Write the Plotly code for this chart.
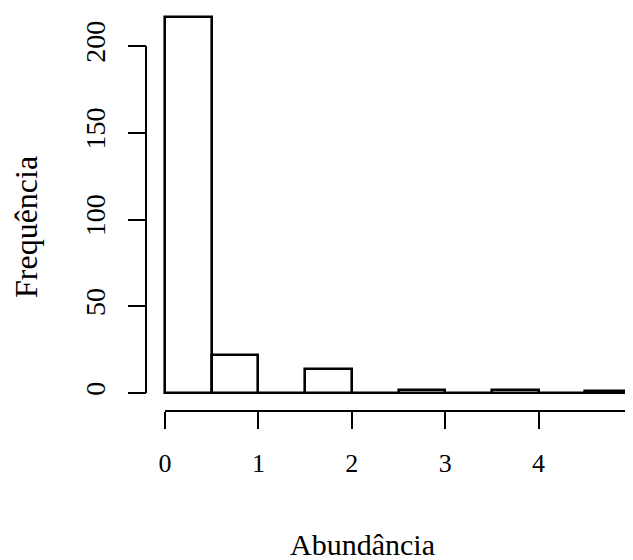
import numpy as np
import plotly.graph_objects as go

# Histogram data
bin_edges = [0.0, 0.5, 1.0, 1.5, 2.0, 2.5, 3.0, 3.5, 4.0, 4.5, 5.0]
counts = [217, 22, 0, 14, 0, 2, 0, 2, 0, 1]
x_ticks = [0, 1, 2, 3, 4, 5]
y_ticks = [0, 50, 100, 150, 200]
x_title = "Abundância"
y_title = "Frequência"

edges = np.array(bin_edges)
centers = (edges[:-1] + edges[1:]) / 2
widths = np.diff(edges)

W, H = 633, 560
FONT = "Liberation Serif"
OFF = 8  # page body margin in the browser

# plot area in figure pixels
L, R, T, B = 122, 626, 0, 407
PW, PH = R - L, B - T
x0_px, xscale = 165 - OFF, 93.4        # pixel of x=0, px per unit
y0_px, yscale = 393 - OFF, 1.735       # pixel of y=0, px per unit

xr = [-(x0_px - L) / xscale, (R - x0_px) / xscale]
yr = [-(B - y0_px) / yscale, (y0_px - T) / yscale]

def px(x):
    return (x - OFF - L) / PW

def py(y):
    return (B - (y - OFF)) / PH

fig = go.Figure()
fig.add_trace(go.Bar(
    x=centers, y=counts, width=widths,
    marker=dict(color="white", line=dict(color="black", width=2.6)),
    cliponaxis=False, showlegend=False, hoverinfo="x+y",
))

ypos = px(146)
xpos = py(411)

fig.update_layout(
    width=W, height=H,
    margin=dict(l=L, r=W - R, t=T, b=H - B, autoexpand=False),
    paper_bgcolor="white", plot_bgcolor="white",
    font=dict(family=FONT, size=26, color="black"),
    bargap=0,
    xaxis=dict(
        range=xr, anchor="free", position=xpos, automargin=False,
        showgrid=False, zeroline=False, showline=False,
        ticks="outside", ticklen=17, tickwidth=2, tickcolor="black",
        tickvals=x_ticks, ticktext=[str(v) for v in x_ticks],
        tickfont=dict(family=FONT, size=26), ticklabelstandoff=12,
        ticklabeloverflow="allow",
    ),
    yaxis=dict(
        range=yr, anchor="free", position=ypos, automargin=False,
        showgrid=False, zeroline=False, showline=False,
        ticks="outside", ticklen=18, tickwidth=2, tickcolor="black",
        tickvals=y_ticks, ticktext=[str(v) for v in y_ticks],
        tickangle=-90, ticklabelstandoff=12,
        tickfont=dict(family=FONT, size=28),
    ),
    shapes=[
        dict(type="line", xref="paper", yref="y", x0=ypos, x1=ypos,
             y0=y_ticks[0], y1=y_ticks[-1], line=dict(color="black", width=2)),
        dict(type="line", xref="x", yref="paper", x0=x_ticks[0], x1=x_ticks[-1],
             y0=xpos, y1=xpos, line=dict(color="black", width=2)),
    ],
    annotations=[
        dict(text=x_title, xref="paper", yref="paper",
             x=px(362), y=py(544),
             xanchor="center", yanchor="middle", showarrow=False,
             font=dict(family=FONT, size=30)),
        dict(text=y_title, xref="paper", yref="paper",
             x=px(26), y=py(227),
             xanchor="center", yanchor="middle", textangle=-90, showarrow=False,
             font=dict(family=FONT, size=32)),
    ],
)

fig.write_html("out.html")
